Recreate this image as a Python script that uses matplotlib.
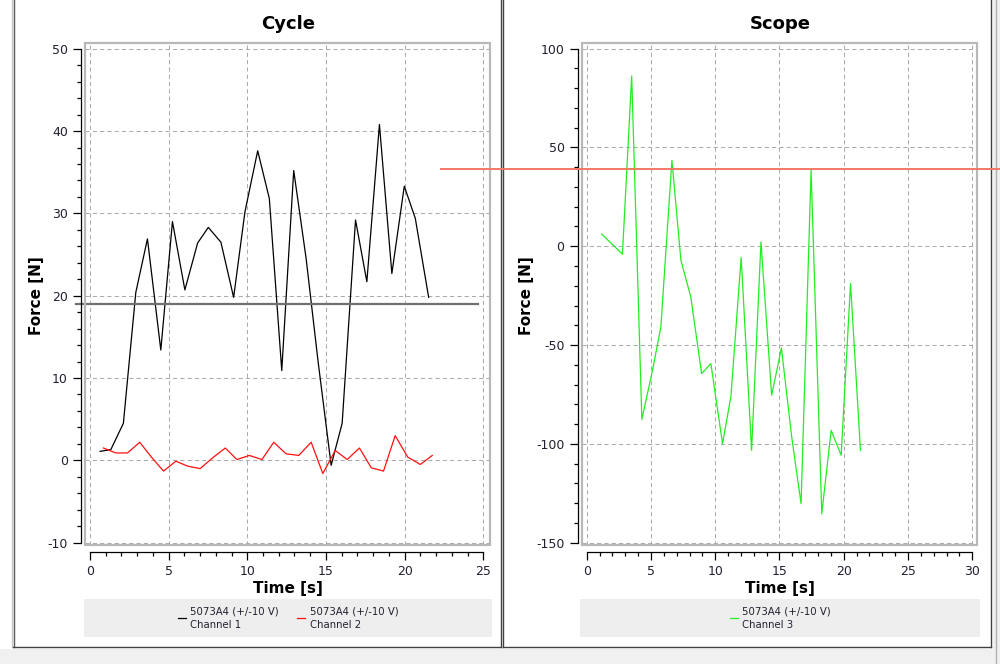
import matplotlib.pyplot as plt
from matplotlib.lines import Line2D
from matplotlib.patches import Rectangle
from matplotlib.ticker import MultipleLocator

plt.rcParams['axes.unicode_minus'] = False

# Cycle panel, channel 1 (black) and channel 2 (red)
t1 = [0.64, 1.32, 2.12, 2.91, 3.65, 4.5, 5.24, 6.03, 6.84, 7.52, 8.32, 9.13, 9.85, 10.66,
      11.4, 12.19, 12.95, 13.74, 14.5, 15.33, 16.03, 16.88, 17.6, 18.4, 19.19, 19.98, 20.68, 21.53]
ch1 = [1.1, 1.3, 4.5, 20.4, 26.9, 13.4, 29.0, 20.7, 26.4, 28.3, 26.5, 19.8, 30.2, 37.6,
       31.8, 10.9, 35.2, 24.5, 12.0, -0.6, 4.5, 29.2, 21.7, 40.8, 22.7, 33.3, 29.4, 19.8]
t2 = [0.85, 1.64, 2.38, 3.16, 3.9, 4.67, 5.46, 6.2, 7.0, 7.79, 8.6, 9.34, 10.13, 10.93,
      11.68, 12.46, 13.27, 14.06, 14.8, 15.59, 16.35, 17.13, 17.88, 18.66, 19.4, 20.2, 21.0, 21.76]
ch2 = [1.5, 0.9, 0.9, 2.2, 0.4, -1.3, -0.1, -0.7, -1.0, 0.3, 1.5, 0.1, 0.6, 0.1,
       2.2, 0.8, 0.6, 2.2, -1.6, 1.2, 0.1, 1.5, -0.9, -1.3, 3.0, 0.4, -0.5, 0.6]

# Scope panel, channel 3 (green)
t3 = [1.17, 2.78, 3.5, 4.29, 5.12, 5.77, 6.63, 7.33, 8.1, 8.94, 9.66, 10.57, 11.22, 12.02,
      12.83, 13.56, 14.39, 15.15, 15.96, 16.68, 17.46, 18.29, 19.02, 19.8, 20.53, 21.3]
ch3 = [6.1, -4.0, 86.1, -87.6, -62.8, -40.8, 43.5, -7.1, -25.7, -64.5, -59.4, -99.9, -76.0, -5.7,
       -103.3, 2.2, -75.4, -51.5, -97.0, -130.3, 38.5, -135.4, -93.2, -105.8, -18.9, -103.3]

# cursor lines
cursor1_level = 18.95
cursor1_t = [-0.9, 24.65]
cursor2_level = 38.9
cursor2_t = [-11.3, 32.3]

legend_name = '5073A4 (+/-10 V)'
legend_ch = ['Channel 1', 'Channel 2', 'Channel 3']

W, H = 1000, 664


def fx(x):
    return x / W


def fy(y):
    return 1 - y / H


fig = plt.figure(figsize=(10, 6.64), dpi=100)
fig.patch.set_facecolor('white')


def style_axes(ax, xmax, xstep, ylo, yhi, ystep, yminor):
    for s in ['top', 'right']:
        ax.spines[s].set_visible(False)
    ax.spines['left'].set_position(('outward', 3))
    ax.spines['bottom'].set_position(('outward', 5))
    ax.spines['left'].set_bounds(ylo, yhi)
    ax.spines['bottom'].set_bounds(0, xmax)
    ax.spines['left'].set_linewidth(0.9)
    ax.spines['bottom'].set_linewidth(0.9)
    ax.set_xticks(range(0, xmax + 1, xstep))
    ax.set_yticks(range(ylo, yhi + 1, ystep))
    ax.xaxis.set_minor_locator(MultipleLocator(1))
    ax.yaxis.set_minor_locator(MultipleLocator(yminor))
    ax.tick_params(which='major', direction='out', length=5.8, width=0.9,
                   labelsize=9, pad=3.5, labelcolor='#202030')
    ax.tick_params(which='minor', direction='out', length=3, width=0.9)
    ax.grid(True, which='major', ls=(0, (4, 3)), color='#ababab', lw=0.75)
    ax.set_axisbelow(True)
    ax.add_patch(Rectangle((0, 0), 1, 1, transform=ax.transAxes, fill=False,
                           edgecolor='#b8b8b8', lw=1.6, clip_on=False, zorder=5))


# left: Cycle
ax1 = fig.add_axes([fx(85), fy(545), (490 - 85) / W, (545 - 42.7) / H])
ax1.set_xlim(-0.32, 25.43)
ax1.set_ylim(-10.28, 50.73)
style_axes(ax1, 25, 5, -10, 50, 10, 2)
ax1.plot(t1, ch1, color='black', lw=0.9)
ax1.plot(t2, ch2, color='#ff1010', lw=0.9)
ax1.plot(cursor1_t, [cursor1_level] * 2, color='#707070', lw=1.6, clip_on=False)

# right: Scope
ax2 = fig.add_axes([fx(581.7), fy(545), (977 - 581.7) / W, (545 - 42.7) / H])
ax2.set_xlim(-0.39, 30.37)
ax2.set_ylim(-151.2, 103.0)
style_axes(ax2, 30, 5, -150, 100, 50, 10)
ax2.plot(t3, ch3, color='#22ee22', lw=0.9)
ax2.plot(cursor2_t, [cursor2_level] * 2, color='#f27866', lw=1.4, clip_on=False, zorder=10)
ax2.set_zorder(3)

# titles and axis labels
for cx, title in [(288, 'Cycle'), (780, 'Scope')]:
    fig.text(fx(cx), fy(24), title, ha='center', va='center', fontsize=13, fontweight='bold')
    fig.text(fx(cx), fy(588), 'Time [s]', ha='center', va='center', fontsize=11, fontweight='bold')
for cx in [36, 526]:
    fig.text(fx(cx), fy(296), 'Force [N]', ha='center', va='center', rotation=90,
             fontsize=11, fontweight='bold')

# legend boxes
fig.add_artist(Rectangle((fx(84), fy(637)), (492 - 84) / W, (637 - 599) / H,
                         transform=fig.transFigure, facecolor='#eeeeee', edgecolor='none'))
fig.add_artist(Rectangle((fx(580), fy(637)), (980 - 580) / W, (637 - 599) / H,
                         transform=fig.transFigure, facecolor='#eeeeee', edgecolor='none'))
entries = [(178, 'black', legend_ch[0]), (297, '#ff1010', legend_ch[1]), (730, '#22ee22', legend_ch[2])]
for lx, col, ch in entries:
    fig.add_artist(Line2D([fx(lx), fx(lx + 8)], [fy(618), fy(618)], transform=fig.transFigure,
                          color=col, lw=0.9))
    fig.text(fx(lx + 12.5), fy(611.5), legend_name, ha='left', va='center', fontsize=7.3, color='#202030')
    fig.text(fx(lx + 12.5), fy(625), ch, ha='left', va='center', fontsize=7.3, color='#202030')

# panel frames and window background
fig.add_artist(Rectangle((0, 0), 1, fy(649), transform=fig.transFigure,
                         facecolor='#f0f0f0', edgecolor='none', zorder=-1))
fig.add_artist(Rectangle((fx(993), 0), 1 - fx(993), 1, transform=fig.transFigure,
                         facecolor='#f0f0f0', edgecolor='none', zorder=-1))
frame_lines = [
    ([12, 12], [0, 647], '#c8c8c8'),
    ([13.5, 13.5], [0, 647], '#5a5a5a'),
    ([501, 501], [0, 647], '#404040'),
    ([503.5, 503.5], [0, 647], '#404040'),
    ([991, 991], [0, 647], '#404040'),
    ([13, 501], [647, 647], '#404040'),
    ([503, 991], [647, 647], '#404040'),
    ([996, 996], [0, 664], '#b0b0b0'),
]
for xs, ys, col in frame_lines:
    fig.add_artist(Line2D([fx(v) for v in xs], [fy(v) for v in ys], transform=fig.transFigure,
                          color=col, lw=1.0, zorder=-0.5))

fig.savefig('out.png', dpi=100)
